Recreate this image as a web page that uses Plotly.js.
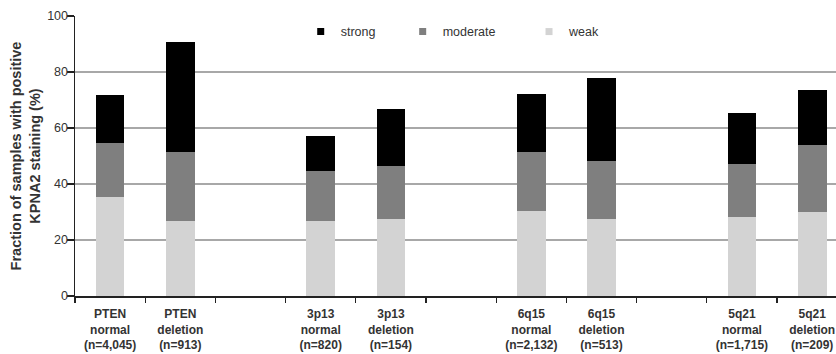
<!DOCTYPE html>
<html>
<head>
<meta charset="utf-8">
<script src="https://cdn.plot.ly/plotly-3.0.1.min.js"></script>
<style>
  html, body { margin: 0; padding: 0; background: #fff; overflow: hidden; }
  #chart { width: 836px; height: 354px; }
</style>
</head>
<body>
<div id="chart"></div>
<script>
// Categories (blank entries are the gaps between groups)
const categories = [
  'PTEN<br>normal<br>(n=4,045)',
  'PTEN<br>deletion<br>(n=913)',
  '\u00a0',
  '3p13<br>normal<br>(n=820)',
  '3p13<br>deletion<br>(n=154)',
  '\u00a0\u00a0',
  '6q15<br>normal<br>(n=2,132)',
  '6q15<br>deletion<br>(n=513)',
  '\u00a0\u00a0\u00a0',
  '5q21<br>normal<br>(n=1,715)',
  '5q21<br>deletion<br>(n=209)'
];
// Segment values (%), stacked bottom to top: weak, moderate, strong
const weak     = [35.4, 26.9, null, 26.9, 27.4, null, 30.4, 27.4, null, 28.1, 29.9];
const moderate = [19.1, 24.4, null, 17.8, 19.0, null, 20.9, 20.9, null, 19.0, 24.0];
const strong   = [17.2, 39.3, null, 12.4, 20.4, null, 20.7, 29.7, null, 18.1, 19.8];

const seriesNames = ['weak', 'moderate', 'strong'];
const yTicks = [0, 20, 40, 60, 80, 100];

const colors = { weak: '#d3d3d3', moderate: '#7f7f7f', strong: '#000000' };
const legendIds = { strong: 'legend', moderate: 'legend2', weak: 'legend3' };
const seriesData = { weak: weak, moderate: moderate, strong: strong };

const traces = [];
seriesNames.forEach(function (name) {
  traces.push({
    type: 'bar',
    name: name,
    x: categories,
    y: seriesData[name],
    marker: { color: colors[name], line: { width: 0 } },
    legendgroup: name,
    showlegend: false,
    hoverinfo: 'skip'
  });
  // legend entry with a small square marker
  traces.push({
    type: 'scatter',
    mode: 'markers',
    name: name,
    x: [null],
    y: [null],
    marker: { symbol: 'square', size: 7, color: colors[name] },
    legendgroup: name,
    legend: legendIds[name],
    showlegend: true,
    hoverinfo: 'skip'
  });
});

const legendBase = {
  orientation: 'h',
  xref: 'paper', yref: 'paper',
  xanchor: 'left', yanchor: 'middle',
  y: 0.943,
  bgcolor: 'rgba(0,0,0,0)',
  borderwidth: 0,
  font: { family: 'Liberation Sans, Arial, sans-serif', size: 12.5, color: '#333' },
  itemclick: false, itemdoubleclick: false
};

const layout = {
  width: 836,
  height: 354,
  margin: { l: 75, r: 0, t: 16, b: 58, pad: 0, autoexpand: false },
  paper_bgcolor: '#ffffff',
  plot_bgcolor: '#ffffff',
  barmode: 'stack',
  bargap: 0.59,
  font: { family: 'Liberation Sans, Arial, sans-serif', color: '#333' },
  xaxis: {
    type: 'category',
    categoryorder: 'array',
    categoryarray: categories,
    range: [-0.5, 10.34],
    tickson: 'boundaries',
    ticks: 'outside',
    ticklen: 5,
    tickwidth: 1.3,
    tickcolor: '#222',
    showline: true,
    linecolor: '#222',
    linewidth: 1.5,
    showgrid: false,
    zeroline: false,
    tickangle: 0,
    ticklabelstandoff: 6,
    tickfont: { family: 'Liberation Sans, Arial, sans-serif', size: 12, color: '#333', weight: 'bold' },
    fixedrange: true
  },
  yaxis: {
    range: [0, 100],
    tickmode: 'array',
    tickvals: yTicks,
    ticktext: yTicks.map(String),
    ticks: 'outside',
    ticklen: 7,
    tickwidth: 1.3,
    tickcolor: '#222',
    showline: true,
    linecolor: '#222',
    linewidth: 1.5,
    showgrid: true,
    gridcolor: '#a8a8a8',
    gridwidth: 1.2,
    zeroline: false,
    ticklabelstandoff: -4,
    tickfont: { family: 'Liberation Sans, Arial, sans-serif', size: 12.5, color: '#333' },
    title: {
      text: 'Fraction of samples with positive<br>KPNA2 staining (%)',
      font: { family: 'Liberation Sans, Arial, sans-serif', size: 14.5, color: '#333', weight: 'bold' },
      standoff: 3
    },
    automargin: true,
    fixedrange: true
  },
  legend:  Object.assign({}, legendBase, { x: 0.2966 }),
  legend2: Object.assign({}, legendBase, { x: 0.4306 }),
  legend3: Object.assign({}, legendBase, { x: 0.5966 }),
  showlegend: true
};

Plotly.newPlot('chart', traces, layout, { displayModeBar: false, staticPlot: true });
</script>
</body>
</html>
